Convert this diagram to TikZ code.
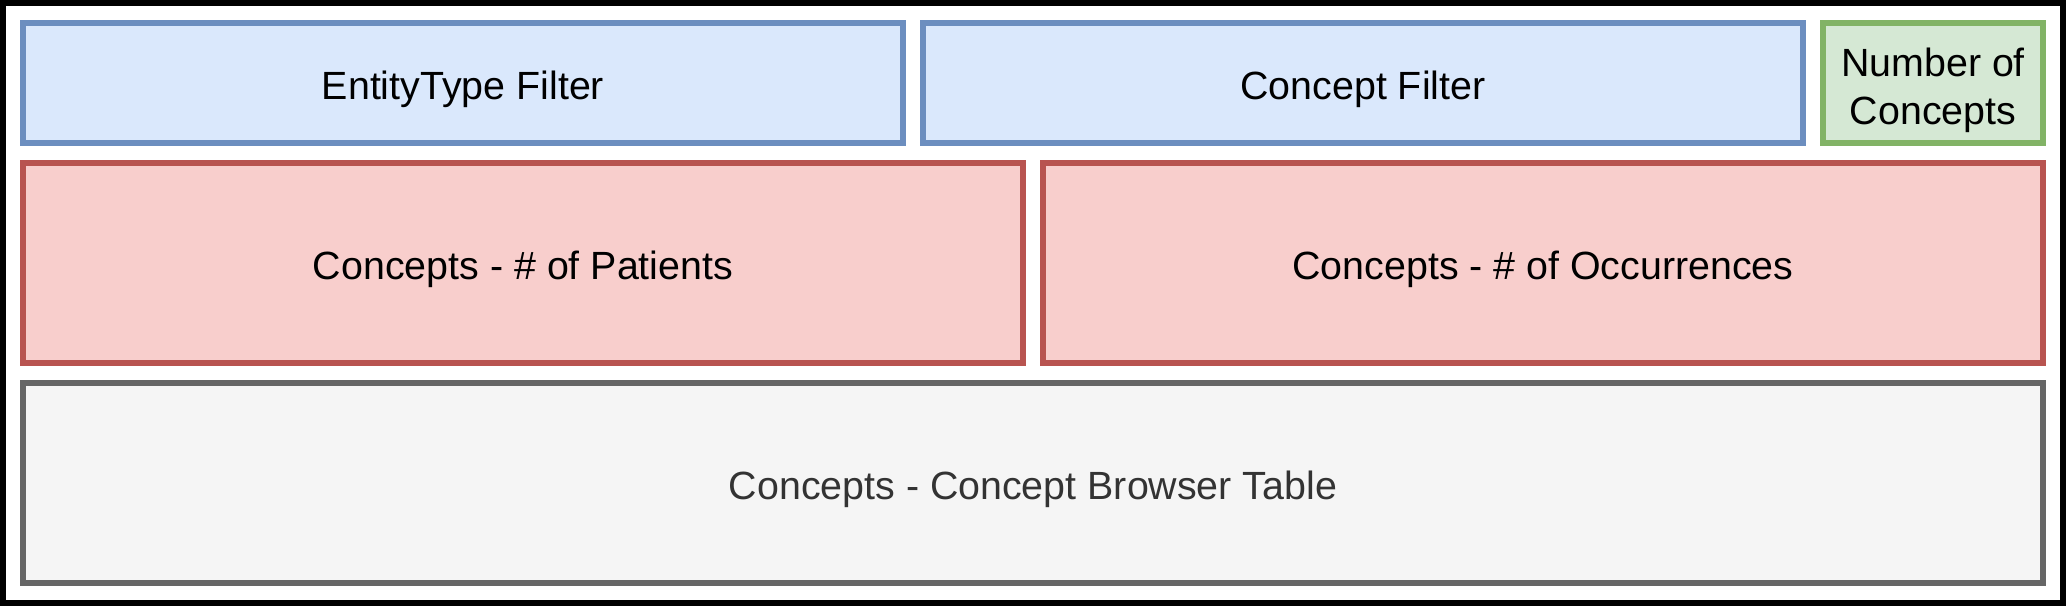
\documentclass[tikz,border=0pt]{standalone}
\usepackage{fontspec}
\setmainfont{Liberation Sans}
\usetikzlibrary{positioning}
\definecolor{blueFill}{HTML}{DAE8FC}
\definecolor{blueLine}{HTML}{6C8EBF}
\definecolor{redFill}{HTML}{F8CECC}
\definecolor{redLine}{HTML}{B85450}
\definecolor{greenFill}{HTML}{D5E8D4}
\definecolor{greenLine}{HTML}{82B366}
\definecolor{grayFill}{HTML}{F5F5F5}
\definecolor{grayLine}{HTML}{666666}
\definecolor{grayText}{HTML}{333333}
\tikzset{
	panel/.style={draw, line width=0.06cm, inner sep=0pt, align=center, text height=0.32cm, text depth=0cm, font=\fontsize{11.2}{13.5}\selectfont},
	filterpanel/.style={panel, fill=blueFill, draw=blueLine, minimum height=1.2cm},
	countpanel/.style={panel, fill=greenFill, draw=greenLine, minimum height=1.2cm, text height=0.82cm},
	chartpanel/.style={panel, fill=redFill, draw=redLine, minimum height=2cm},
	tablepanel/.style={panel, fill=grayFill, draw=grayLine, text=grayText, minimum height=2cm}
}

\begin{document}
\begin{tikzpicture}
			%%%%% START %%%%%
			
			\useasboundingbox (0, 0) rectangle (20.66, -6.06);
			\draw[line width=0.06cm, color=black] (0.03, -0.03) rectangle (20.63, -6.03);
			
			\node[filterpanel, minimum width=8.8cm] (entityFilter) at (4.63, -0.83) {EntityType Filter};
			\node[filterpanel, minimum width=8.8cm] (conceptFilter) at (13.63, -0.83) {Concept Filter};
			\node[countpanel, minimum width=2.2cm] (conceptCount) at (19.33, -0.83) {Number of\\Concepts};
			
			\node[chartpanel, minimum width=10cm] (patientChart) at (5.23, -2.63) {Concepts - \# of Patients};
			\node[chartpanel, minimum width=10cm] (occurrenceChart) at (15.43, -2.63) {Concepts - \# of Occurrences};
			
			\node[tablepanel, minimum width=20.2cm] (browserTable) at (10.33, -4.83) {Concepts - Concept Browser Table};
			
			%%%%% END %%%%%
\end{tikzpicture}
\end{document}
